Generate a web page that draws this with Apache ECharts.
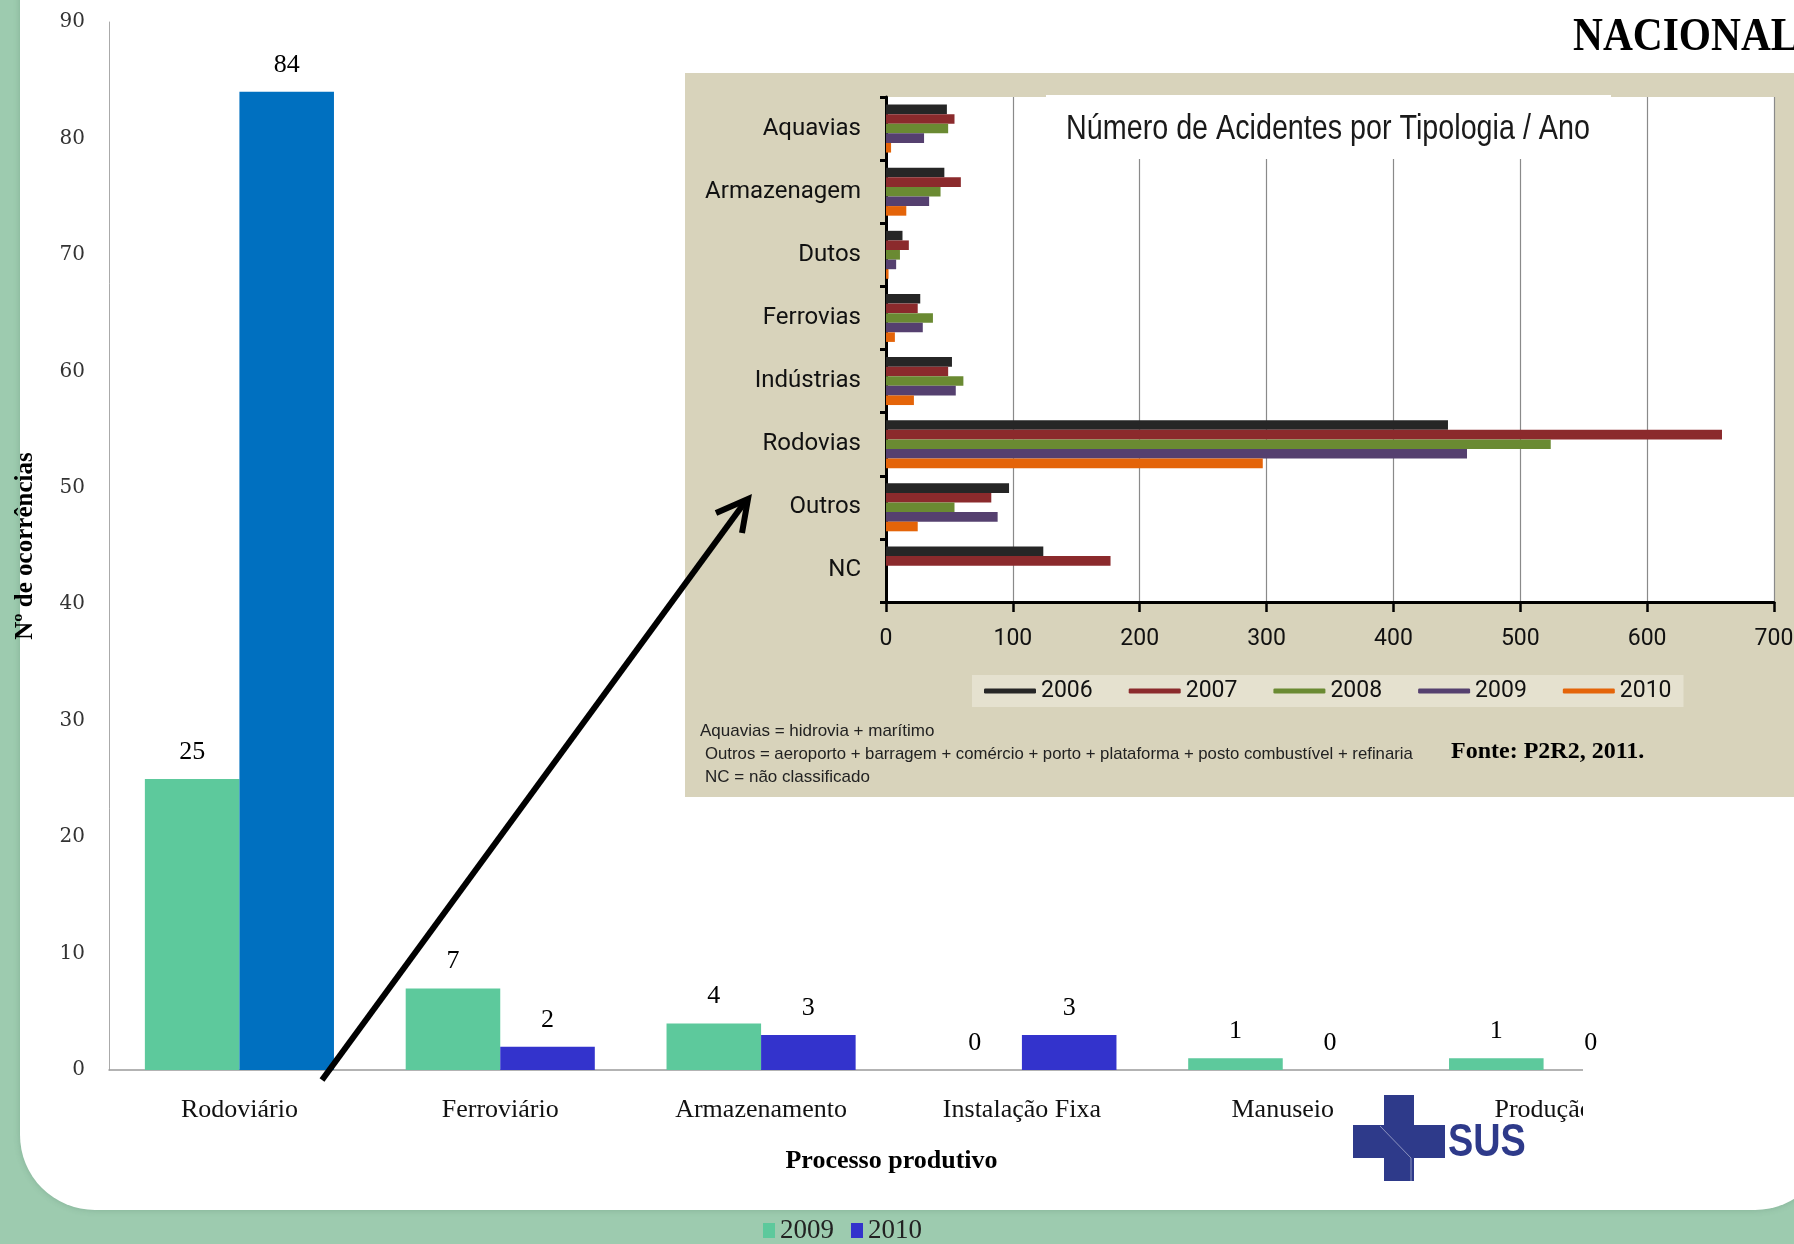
<!DOCTYPE html>
<html>
<head>
<meta charset="utf-8">
<title>Ocorrências por processo produtivo</title>
<script src="https://cdn.jsdelivr.net/npm/echarts@6/dist/echarts.min.js"></script>
<style>
  html, body { margin: 0; padding: 0; width: 1794px; height: 1244px; overflow: hidden; background: #9DCBAF; }
  #sheet { position: absolute; left: 20px; top: -40px; width: 1810px; height: 1250px; background: #fff;
           border-radius: 0 0 75px 75px; box-shadow: 0 0 6px rgba(60, 100, 80, 0.25); }
  #panel { position: absolute; left: 685px; top: 73px; width: 1109px; height: 724px; background: #D8D3BB; }
  #chart { position: absolute; left: 0; top: 0; width: 1794px; height: 1244px; }
</style>
</head>
<body>
<div id="sheet"></div>
<div id="panel"></div>
<div id="chart"></div>
<script>
// Occurrences by productive process (main chart)
const processos = ['Rodoviário', 'Ferroviário', 'Armazenamento', 'Instalação Fixa', 'Manuseio', 'Produção'];
const anosProcesso = ['2009', '2010'];
const ocorrencias2009 = [25, 7, 4, 0, 1, 1];
const ocorrencias2010 = [84, 2, 3, 3, 0, 0];

// Accidents by typology / year (inset chart)
const tipologias = ['Aquavias', 'Armazenagem', 'Dutos', 'Ferrovias', 'Indústrias', 'Rodovias', 'Outros', 'NC'];
const anosTipologia = ['2006', '2007', '2008', '2009', '2010'];
const acidentes2006 = [48, 46, 13, 27, 52, 443, 97, 124];
const acidentes2007 = [54, 59, 18, 25, 49, 659, 83, 177];
const acidentes2008 = [49, 43, 11, 37, 61, 524, 54, 0];
const acidentes2009 = [30, 34, 8, 29, 55, 458, 88, 0];
const acidentes2010 = [4, 16, 2, 7, 22, 297, 25, 0];

const notas = [
  'Aquavias = hidrovia + marítimo',
  'Outros = aeroporto + barragem + comércio + porto + plataforma + posto combustível + refinaria',
  'NC = não classificado'
];

const SERIF = "'Liberation Serif', 'Times New Roman', serif";
const SANS = "Roboto, 'Liberation Sans', sans-serif";
const NOTE_FONT = "17px 'Liberation Sans', Arial, sans-serif";

const coresTipologia = ['#262626', '#8B2A2C', '#6A8A32', '#55406F', '#E46409'];
const valoresTipologia = [acidentes2006, acidentes2007, acidentes2008, acidentes2009, acidentes2010];

const mainLabel = { show: true, position: 'top', distance: 14, fontFamily: SERIF, fontSize: 26, color: '#000' };

const tipologiaSeries = anosTipologia.map((ano, i) => ({
  name: 'Acidentes ' + ano,
  type: 'bar',
  xAxisIndex: 1,
  yAxisIndex: 1,
  barGap: '0%',
  barCategoryGap: '24%',
  itemStyle: { color: coresTipologia[i] },
  data: valoresTipologia[i]
}));

const chart = echarts.init(document.getElementById('chart'), null, { renderer: 'canvas' });

chart.setOption({
  animation: false,
  backgroundColor: 'transparent',
  legend: [
    {
      data: anosProcesso,
      left: 763, top: 1217, padding: 0,
      icon: 'rect', itemWidth: 12, itemHeight: 15, itemGap: 17,
      textStyle: { fontFamily: SERIF, fontSize: 27, color: '#222' }
    },
    {
      data: anosTipologia.map(a => 'Acidentes ' + a),
      formatter: name => name.slice(-4),
      left: 972, top: 675, padding: [4, 12, 4, 12],
      backgroundColor: '#E5E1CF',
      icon: 'roundRect', itemWidth: 52, itemHeight: 5, itemGap: 36,
      textStyle: { fontFamily: SANS, fontSize: 23, color: '#111', lineHeight: 24 }
    }
  ],
  grid: [
    { left: 109, top: 22, width: 1565, height: 1048, outerBoundsMode: 'none' },
    { left: 886, top: 97, width: 888, height: 505, outerBoundsMode: 'none',
      show: true, backgroundColor: '#fff', borderWidth: 0 }
  ],
  xAxis: [
    {
      gridIndex: 0, type: 'category', data: processos,
      name: 'Processo produtivo', nameLocation: 'middle', nameGap: 78,
      nameTextStyle: { fontFamily: SERIF, fontSize: 26, fontWeight: 'bold', color: '#000' },
      axisLine: { show: true, lineStyle: { color: '#9a9a9a', width: 1.5 } },
      axisTick: { show: false },
      axisLabel: { fontFamily: SERIF, fontSize: 26, color: '#111', margin: 27, interval: 0 },
      splitLine: { show: false }
    },
    {
      gridIndex: 1, type: 'value', min: 0, max: 700, interval: 100,
      axisLine: { show: true, lineStyle: { color: '#000', width: 3 } },
      axisTick: { show: true, length: 10, lineStyle: { color: '#000', width: 2.5 } },
      axisLabel: { fontFamily: SANS, fontSize: 23, color: '#111', margin: 26 },
      splitLine: { show: true, lineStyle: { color: '#8a8a8a', width: 1.2 } }
    }
  ],
  yAxis: [
    {
      gridIndex: 0, type: 'value', min: 0, max: 90, interval: 10,
      name: 'Nº de ocorrências', nameLocation: 'middle', nameGap: 71, nameRotate: 90,
      nameTextStyle: { fontFamily: SERIF, fontSize: 25, fontWeight: 'bold', color: '#000' },
      axisLine: { show: true, lineStyle: { color: '#aaa', width: 1 } },
      axisTick: { show: false },
      axisLabel: { fontFamily: "'DejaVu Serif', serif", fontSize: 20, color: '#333', margin: 24 },
      splitLine: { show: false }
    },
    {
      gridIndex: 1, type: 'category', data: tipologias, inverse: true,
      axisLine: { show: true, lineStyle: { color: '#000', width: 3 } },
      axisTick: { show: true, length: 6, lineStyle: { color: '#000', width: 3 } },
      axisLabel: { fontFamily: SANS, fontSize: 24, color: '#111', margin: 25 },
      splitLine: { show: false }
    }
  ],
  series: [
    {
      name: '2009', type: 'bar', xAxisIndex: 0, yAxisIndex: 0,
      barGap: '0%', barCategoryGap: '27.5%',
      itemStyle: { color: '#5DC99C' },
      label: mainLabel,
      data: ocorrencias2009
    },
    {
      name: '2010', type: 'bar', xAxisIndex: 0, yAxisIndex: 0,
      barGap: '0%', barCategoryGap: '27.5%',
      itemStyle: { color: '#3333CC' },
      label: mainLabel,
      // road transport bar is drawn in a brighter blue
      data: ocorrencias2010.map((v, i) => i === 0 ? { value: v, itemStyle: { color: '#0070C0' } } : v)
    },
    ...tipologiaSeries
  ],
  graphic: [
    // right end of the process axis is cut by the slide frame
    { type: 'rect', z: 100, shape: { x: 1583, y: 1066, width: 160, height: 70 }, style: { fill: '#fff' } },
    // inset title box
    { type: 'rect', z: 50, shape: { x: 1046, y: 95, width: 565, height: 64 }, style: { fill: '#fff' } },
    { type: 'text', z: 51, x: 1328, y: 129, scaleX: 0.82,
      style: { text: 'Número de Acidentes por Tipologia / Ano', x: 0, y: 0, align: 'center', verticalAlign: 'middle',
               font: "35px 'Liberation Sans', Arial, sans-serif", fill: '#1a1a1a' } },
    // notes under the inset
    { type: 'text', z: 51, x: 700, y: 731,
      style: { text: notas[0], verticalAlign: 'middle', font: NOTE_FONT, fill: '#222' } },
    { type: 'text', z: 51, x: 705, y: 754, scaleX: 0.985,
      style: { text: notas[1], verticalAlign: 'middle', font: NOTE_FONT, fill: '#222' } },
    { type: 'text', z: 51, x: 705, y: 777,
      style: { text: notas[2], verticalAlign: 'middle', font: NOTE_FONT, fill: '#222' } },
    { type: 'text', z: 51, x: 1451, y: 752,
      style: { text: 'Fonte: P2R2, 2011.', verticalAlign: 'middle', font: "bold 24px 'Liberation Serif', serif", fill: '#000' } },
    // header text
    { type: 'text', z: 51, x: 1573, y: 38, scaleX: 0.9,
      style: { text: 'NACIONAL', verticalAlign: 'middle', font: "bold 46px 'Liberation Serif', serif", fill: '#000' } },
    // arrow pointing to the inset
    { type: 'line', z: 60, shape: { x1: 322, y1: 1080, x2: 745, y2: 502 },
      style: { stroke: '#000', lineWidth: 6 } },
    { type: 'polyline', z: 60, shape: { points: [[716, 513], [748, 499], [742, 533]] },
      style: { stroke: '#000', lineWidth: 6, fill: null, lineJoin: 'miter' } },
    // SUS logo
    { type: 'rect', z: 60, shape: { x: 1384, y: 1095, width: 30, height: 86 }, style: { fill: '#2E3A8A' } },
    { type: 'rect', z: 60, shape: { x: 1353, y: 1125, width: 92, height: 33 }, style: { fill: '#2E3A8A' } },
    { type: 'polyline', z: 61, shape: { points: [[1380, 1126], [1411, 1158], [1411, 1181]] },
      style: { stroke: 'rgba(255,255,255,0.45)', lineWidth: 1, fill: null } },
    { type: 'text', z: 61, x: 1448, y: 1143, scaleX: 0.86, scaleY: 1.05,
      style: { text: 'SUS', verticalAlign: 'middle', font: "bold 44px 'Liberation Sans', Arial, sans-serif", fill: '#2E3A8A' } }
  ]
});
</script>
</body>
</html>
